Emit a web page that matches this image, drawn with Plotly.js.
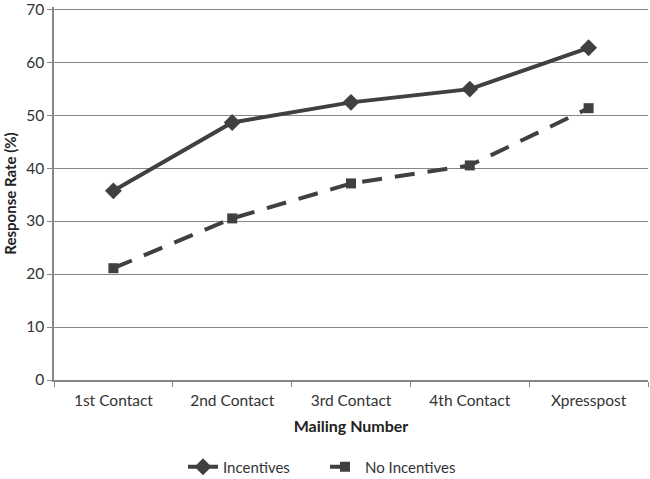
<!DOCTYPE html>
<html><head><meta charset="utf-8">
<script src="https://cdn.plot.ly/plotly-3.0.1.min.js"></script>
<style>html,body{margin:0;padding:0;background:#fff}#c{width:650px;height:479px}</style>
</head><body><div id="c"></div>
<script>
const categories = ["1st Contact","2nd Contact","3rd Contact","4th Contact","Xpresspost"];
const incentives = [35.7, 48.6, 52.4, 54.9, 62.7];
const noIncentives = [21.1, 30.5, 37.1, 40.5, 51.3];
const yTicks = [0,10,20,30,40,50,60,70];

const font = "Lato, 'Open Sans', 'Liberation Sans', sans-serif";
const traces = [
  {x: categories, y: incentives, name: "Incentives", type: "scatter", mode: "lines+markers",
   line: {color: "#404040", width: 4}, marker: {symbol: "diamond", size: 13, color: "#404040"}},
  {x: categories, y: noIncentives, name: "No Incentives", type: "scatter", mode: "lines+markers",
   line: {color: "#404040", width: 4, dash: "20px,13px"}, marker: {symbol: "square", size: 10, color: "#404040"}}
];
const layout = {
  width: 650, height: 479,
  margin: {l: 54, r: 2, t: 7, b: 99},
  paper_bgcolor: "#fff", plot_bgcolor: "#fff",
  font: {family: font, size: 15.5, color: "#333"},
  showlegend: true,
  legend: {orientation: "h", xref: "container", yref: "container", x: 0.5, xanchor: "center", y: 0.025, yanchor: "middle",
    entrywidth: 97, font: {size: 15, color: "#333"}},
  xaxis: {type: "category", range: [-0.5, 4.5], showline: true, linecolor: "#868686", linewidth: 1.5,
    ticks: "outside", tickson: "boundaries", ticklen: 5, tickcolor: "#868686", showgrid: false,
    automargin: false, ticklabelstandoff: 6,
    title: {text: "<b>Mailing Number</b>", font: {size: 16, color: "#222"}, standoff: 12}},
  yaxis: {range: [0, 70.4], tickmode: "array", tickvals: yTicks, ticktext: yTicks.map(String), showline: true, linecolor: "#868686", linewidth: 1.5,
    ticks: "outside", ticklen: 5, tickcolor: "#868686", showgrid: true, gridcolor: "#868686", gridwidth: 1.2, zeroline: false,
    automargin: false, ticklabeloverflow: "allow", tickfont: {size: 15.5},
    title: {text: "<b>Response Rate (%)</b>", font: {size: 15, color: "#222"}, standoff: 6}}
};
Plotly.newPlot("c", traces, layout, {displayModeBar: false});
</script></body></html>
